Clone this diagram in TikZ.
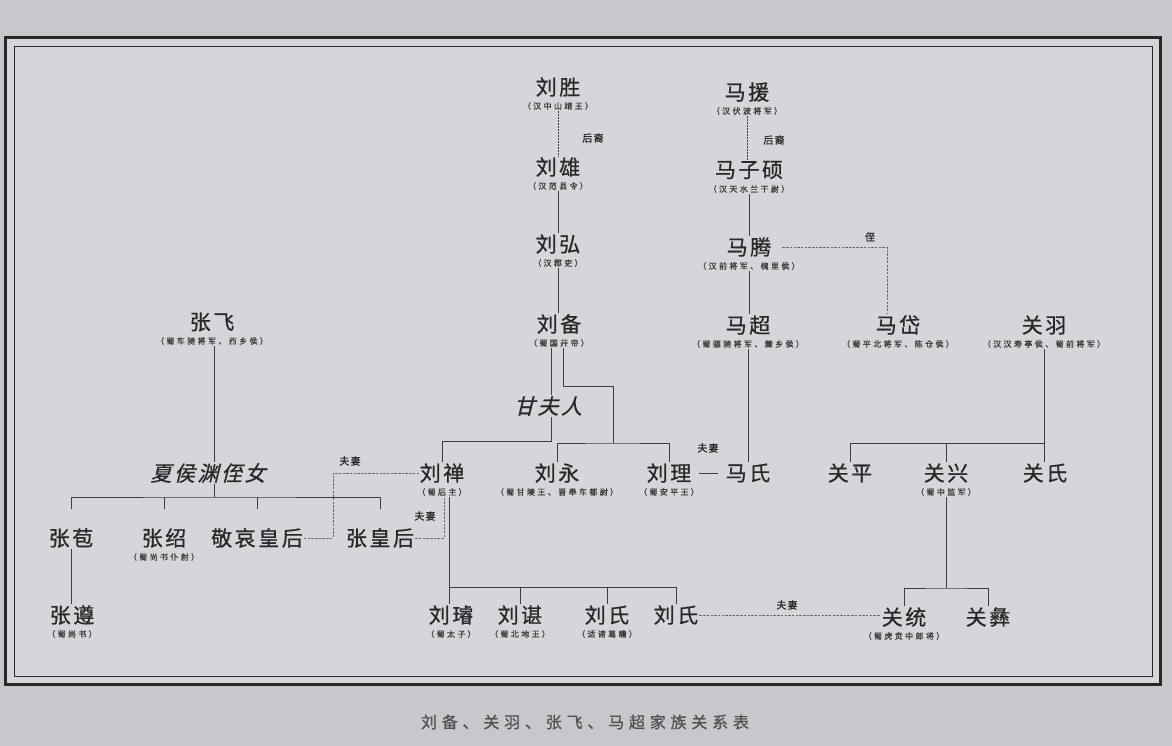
\documentclass[tikz,border=0pt]{standalone}
\usepackage{fontspec}
\newfontfamily\cjk[LetterSpace=12,FakeBold=0.7]{Noto Sans CJK SC}
\newfontfamily\cjksl[LetterSpace=12,FakeSlant=0.25,FakeBold=0.7]{Noto Sans CJK SC}
\newfontfamily\cjkwide[LetterSpace=30,FakeBold=1]{Noto Sans CJK SC}
\definecolor{paper}{RGB}{214,214,218}
\definecolor{desk}{RGB}{200,200,204}
\definecolor{ink}{RGB}{40,40,43}
\begin{document}
\begin{tikzpicture}[x=1pt,y=-1pt,
    person/.style={font=\cjk\fontsize{21}{21}\selectfont, text=ink, inner sep=1pt},
    wife/.style={font=\cjksl\fontsize{21}{21}\selectfont, text=ink, inner sep=1pt},
    title/.style={font=\cjkwide\fontsize{8}{8}\selectfont, text=ink!90, inner sep=1pt},
    rel/.style={font=\cjk\fontsize{10}{10}\selectfont, text=ink, inner sep=1pt},
    link/.style={draw=ink!90, line width=0.9pt},
    wed/.style={draw=ink!70, line width=0.7pt, dash pattern=on 2.5pt off 1.2pt}]
\useasboundingbox (0,0) rectangle (1172,746);
\fill[desk] (0,0) rectangle (1172,746);
\fill[paper] (5,38) rectangle (1160,684);
\draw[ink, line width=3pt] (5,38) rectangle (1160,684);
\draw[ink, line width=0.8pt] (14,46) rectangle (1152,676);
\node[font=\cjkwide\fontsize{16}{16}\selectfont, text=ink!80] (caption) at (585,722) {刘备、关羽、张飞、马超家族关系表};

% people with a title
\foreach \n/\x/\y/\who/\what in {
    lsheng/558/87/刘胜/汉中山靖王, lxiong/558/167/刘雄/汉范县令,
    lhong/558/244/刘弘/汉郡吏, lbei/559/324/刘备/蜀国开帝,
    myuan/747/92/马援/汉伏波将军, mzishuo/749/170/马子硕/汉天水兰干尉,
    mteng/749/247/马腾/汉前将军、槐里侯, mchao/748/325/马超/蜀骠骑将军、斄乡侯,
    mdai/898/325/马岱/蜀平北将军、陈仓侯, gyu/1044/325/关羽/汉汉寿亭侯、蜀前将军,
    zfei/212/322/张飞/蜀车骑将军、西乡侯,
    lshan/442/473/刘禅/蜀后主, lyong/557/473/刘永/蜀甘陵王、晋奉车都尉,
    lli/669/473/刘理/蜀安平王, gxing/946/473/关兴/蜀中监军,
    zshao/164/538/张绍/蜀尚书仆射, zzun/72/615/张遵/蜀尚书,
    lxuan/451/615/刘璿/蜀太子, lchen/520/615/刘谌/蜀北地王,
    lshiA/607/615/刘氏/适诸葛瞻, gtong/904/617/关统/蜀虎贲中郎将}
{
    \node[person] (\n) at (\x,\y) {\who};
    \node[title] (\n-t) at (\x,\y+19) {（\what）};
}
% people without a title
\foreach \n/\x/\y/\who in {mashi/748/473/马氏, gping/850/473/关平, gshi/1045/473/关氏,
    zbao/71/538/张苞, jingai/257/538/敬哀皇后, zhuang/380/538/张皇后,
    lshiB/676/615/刘氏, gyi/988/617/关彝}
{
    \node[person] (\n) at (\x,\y) {\who};
}
\node[wife] (ganfr) at (548,406) {甘夫人};
\node[wife] (xhou) at (208,473) {夏侯渊侄女};

% Liu
\draw[link, dash pattern=on 1.5pt off 1.5pt] (lsheng-t.south) -- (lsheng-t.south |- lxiong.north);
\node[rel] (rA) at (593,138) {后裔};
\draw[link] (lxiong-t.south) -- (lxiong-t.south |- lhong.north);
\draw[link] (lhong-t.south) -- (lhong-t.south |- lbei.north);
\coordinate (jbei) at (613,386);
\coordinate (jsons) at (613,443);
\coordinate (jgan) at (551,441);
\draw[link] ([xshift=-8pt]lbei-t.south) -- ([xshift=-8pt]lbei-t.south |- ganfr.north);
\draw[link] ([xshift=4pt]lbei-t.south) |- (jbei) -- (jsons);
\draw[link] (ganfr.south -| jgan) -- (jgan) -| (lshan.north);
\draw[link] (lyong.north) |- (jsons) -| (lli.north);
\coordinate (jshan) at (449,587);
\draw[link] (lshan-t.south -| jshan) -- (jshan |- lxuan.north);
\draw[link] (jshan) -| (lshiB.north);
\draw[link] (lchen.north) -- (lchen.north |- jshan);
\draw[link] (lshiA.north) -- (lshiA.north |- jshan);

% Ma
\draw[link, dash pattern=on 1.5pt off 1.5pt] (myuan-t.south) -- (myuan-t.south |- mzishuo.north);
\node[rel] (rB) at (774,140) {后裔};
\draw[link] (mzishuo-t.south) -- (mzishuo-t.south |- mteng.north);
\draw[link] (mteng-t.south) -- (mteng-t.south |- mchao.north);
\draw[wed] ([xshift=10pt]mteng.east) -| ([xshift=-11pt]mdai.north);
\node[rel] (rC) at (870,237) {侄};
\draw[link] (mchao-t.south) -- (mchao-t.south |- mashi.north);

% Guan
\coordinate (jguan) at (1044,443);
\draw[link] (gyu-t.south -| gyu) -- (gyu |- gshi.north);
\draw[link] (gping.north) |- (jguan);
\draw[link] (gxing.north) -- (gxing.north |- jguan);
\coordinate (jxing) at (946,588);
\draw[link] (gxing-t.south) -- (jxing);
\draw[link] (gtong.north) |- (jxing) -| (gyi.north);

% Zhang
\coordinate (jzhang) at (214,497);
\draw[link] (zfei-t.south -| jzhang) -- (jzhang |- xhou.north);
\draw[link] (xhou.south -| jzhang) -- (jzhang);
\draw[link] ([yshift=18pt]zbao.north) |- (jzhang) -| ([yshift=18pt]zhuang.north);
\draw[link] ([yshift=18pt]zshao.north) -- (zshao.north |- jzhang);
\draw[link] ([yshift=18pt]jingai.north) -- (jingai.north |- jzhang);
\draw[link] (zbao.south) -- (zbao.south |- zzun.north);

% marriages
\coordinate (jwed) at (333,473);
\draw[wed] (jingai.east) -| (jwed) -- (lshan.west);
\node[rel] (rD) at (350,461) {夫妻};
\draw[wed] (zhuang.east) -| ([xshift=2pt]lshan-t.south);
\node[rel] (rE) at (425,516) {夫妻};
\draw[link, shorten <=7pt, shorten >=7pt] (lli.east) -- (mashi.west);
\node[rel] (rF) at (708,448) {夫妻};
\draw[wed] (lshiB.east) -- (lshiB.east -| gtong.west);
\node[rel] (rG) at (787,605) {夫妻};
\end{tikzpicture}
\end{document}
